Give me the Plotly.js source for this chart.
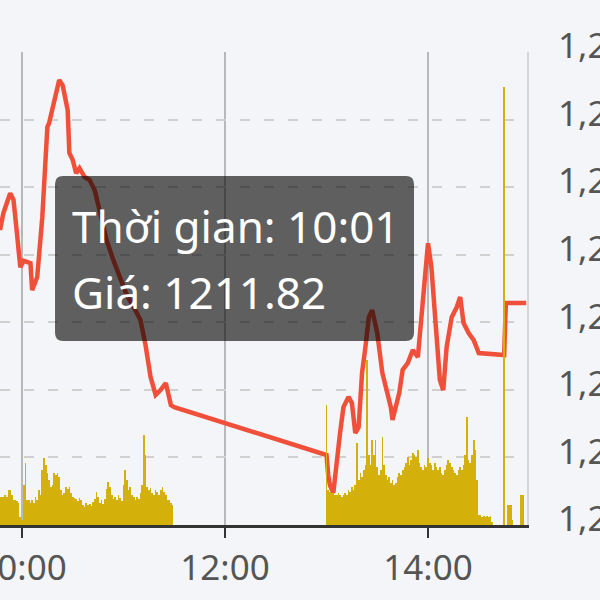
<!DOCTYPE html>
<html>
<head>
<meta charset="utf-8">
<script src="https://cdn.plot.ly/plotly-3.0.1.min.js"></script>
<style>
  html, body { margin: 0; padding: 0; background: #f4f5f8; }
  #chart { width: 600px; height: 600px; }
</style>
</head>
<body>
<div id="chart"></div>
<script>
// ---- Data ----
const tradeDate = '2024-01-01';

// Price line (time HH:MM, index value)
const priceTimes = ['09:47','09:49','09:53','09:55','09:57','09:59','10:01','10:05','10:06','10:09',
  '10:12','10:14','10:15','10:16','10:18','10:21','10:22','10:24','10:27','10:28',
  '10:30','10:32','10:34','10:37','10:40','10:43','10:46','10:50','10:54','10:58',
  '11:02','11:07','11:10','11:13','11:16','11:19','11:22','11:25','11:28','11:30',
  '13:00','13:01','13:02','13:04','13:05','13:06','13:08','13:10','13:13','13:15',
  '13:17','13:19','13:21','13:23','13:25','13:27','13:30','13:33','13:38','13:39',
  '13:43','13:45','13:48','13:51','13:54','13:57','14:00','14:02','14:05','14:07',
  '14:09','14:11','14:14','14:17','14:19','14:21','14:24','14:27','14:30','14:45',
  '14:46','14:58'];
const priceValues = [1212.73,1213.23,1213.82,1213.62,1212.64,1211.63,1211.82,1211.75,1210.95,1211.34,
  1213.11,1215.09,1215.78,1215.89,1216.37,1216.96,1217.17,1217.02,1216.28,1215.01,
  1214.80,1214.41,1214.56,1214.30,1214.21,1213.91,1213.23,1212.43,1211.84,1211.34,
  1210.80,1210.36,1210.07,1209.33,1208.38,1207.85,1208.00,1208.20,1207.55,1207.49,
  1206.07,1205.48,1205.18,1204.95,1205.33,1205.78,1206.72,1207.49,1207.79,1207.61,
  1206.72,1206.90,1208.50,1209.27,1210.15,1210.36,1209.68,1208.50,1207.49,1207.11,
  1207.91,1208.59,1208.79,1209.18,1208.97,1210.66,1212.34,1211.63,1209.68,1208.29,
  1207.99,1209.27,1210.15,1210.45,1210.75,1209.98,1209.68,1209.47,1209.09,1209.03,
  1210.57,1210.57];

// Per-minute volume (units of 10,000 shares), morning session from 09:47
const volMorningStart = '09:47';
const volMorning = [28,28,28,30,28,35,35,30,25,25,24,22,8,
  5,40,62,25,25,22,25,22,28,25,35,30,55,67,60,52,45,38,40,52,50,52,48,35,30,32,38,36,38,32,
  28,27,26,24,27,25,20,18,22,20,21,19,23,26,33,28,22,25,21,26,36,43,38,30,26,28,25,30,27,24,
  40,55,45,35,38,30,28,25,28,26,32,40,90,70,38,35,37,32,30,35,33,30,35,38,33,30,25,25,22,20];
// Per-minute volume, afternoon session from 13:00
const volAfternoonStart = '13:00';
const volAfternoon = [120,35,33,32,32,30,30,32,30,28,30,32,30,35,33,38,35,40,82,45,
  52,48,55,60,165,70,60,85,70,85,58,50,55,88,60,50,45,48,42,45,
  40,42,48,52,50,55,58,62,68,60,65,72,70,68,75,62,58,55,60,58,
  67,62,60,55,62,58,55,58,52,50,55,60,65,62,58,55,52,50,55,58,
  55,60,70,108,65,62,70,85,75,45,
  10,10,8,9,8,9,8,9,3,0,0,0,0,0,0,438,0,20,20,20,5,0,0,0,0,30,30];

// Axis ticks
const yTickStart = 1204, yTickEnd = 1218, yTickStep = 2;
const xTickTimes = ['10:00','12:00','14:00'];
const viewStart = '09:47:00', viewEnd = '14:58:30';

// Highlighted (hovered) point
const hoverTime = '10:01';

// ---- Build ----
function ts(hm) { return tradeDate + ' ' + (hm.length === 5 ? hm + ':00' : hm); }
function minuteSeries(start, n) {
  const [h, m] = start.split(':').map(Number);
  const out = [];
  for (let i = 0; i < n; i++) {
    const tot = h * 60 + m + i;
    const hh = String(Math.floor(tot / 60)).padStart(2, '0');
    const mm = String(tot % 60).padStart(2, '0');
    out.push(ts(hh + ':' + mm));
  }
  return out;
}

const volX = minuteSeries(volMorningStart, volMorning.length).concat(minuteSeries(volAfternoonStart, volAfternoon.length));
const volY = volMorning.concat(volAfternoon);

const volTrace = {
  type: 'bar', x: volX, y: volY, yaxis: 'y2',
  width: 60000,
  marker: { color: '#d4b00a', line: { width: 0 } },
  hoverinfo: 'skip'
};
const priceTrace = {
  type: 'scatter', mode: 'lines', x: priceTimes.map(ts), y: priceValues,
  line: { color: '#f0503a', width: 4.5 },
  hoverinfo: 'skip'
};

const hIdx = priceTimes.indexOf(hoverTime);
const tipLine1 = 'Thời gian: ' + priceTimes[hIdx];
const tipLine2 = 'Giá: ' + priceValues[hIdx].toFixed(2);

const yTicks = [];
for (let v = yTickStart; v <= yTickEnd; v += yTickStep) yTicks.push(v);

// tooltip box (paper coords, rounded corners)
const bx0 = 0.1044, bx1 = 0.7856, by0 = 0.389, by1 = 0.7378, rx = 0.0152, ry = 0.0169;
const boxPath = `M ${bx0+rx} ${by1} L ${bx1-rx} ${by1} Q ${bx1} ${by1} ${bx1} ${by1-ry} L ${bx1} ${by0+ry} Q ${bx1} ${by0} ${bx1-rx} ${by0} L ${bx0+rx} ${by0} Q ${bx0} ${by0} ${bx0} ${by0+ry} L ${bx0} ${by1-ry} Q ${bx0} ${by1} ${bx0+rx} ${by1} Z`;

const fontFam = '"Noto Sans", "Open Sans", sans-serif';
const layout = {
  width: 600, height: 600,
  margin: { l: 0, r: 73, t: 52, b: 75, pad: 0 },
  paper_bgcolor: '#f4f5f8', plot_bgcolor: '#f4f5f8',
  showlegend: false,
  hovermode: false,
  bargap: 0,
  font: { family: fontFam, color: '#555555' },
  xaxis: {
    type: 'date',
    range: [ts(viewStart), ts(viewEnd)],
    tickvals: xTickTimes.map(ts),
    tickformat: '%H:%M',
    tickfont: { size: 35, color: '#555555', family: fontFam },
    ticklabeloverflow: 'allow',
    ticks: 'outside', ticklen: 10, tickwidth: 2, tickcolor: '#333333',
    showline: true, linecolor: '#333333', linewidth: 3,
    showgrid: true, gridcolor: '#b8b8b8', gridwidth: 2,
    zeroline: false
  },
  yaxis: {
    side: 'right',
    range: [yTickStart, yTickEnd],
    tickvals: yTicks,
    tickformat: ',.0f',
    tickfont: { size: 35, color: '#555555', family: fontFam },
    ticklabeloverflow: 'allow',
    ticks: '', ticklabelstandoff: 22, ticklabelshift: -6,
    showline: true, linecolor: '#d6d6d6', linewidth: 2,
    showgrid: true, gridcolor: '#d0d0d0', gridwidth: 2, griddash: '10px,14px',
    zeroline: false
  },
  yaxis2: {
    overlaying: 'y', side: 'left', range: [0, 473], visible: false, fixedrange: true
  },
  shapes: [{
    type: 'path', xref: 'paper', yref: 'paper', path: boxPath,
    fillcolor: 'rgba(0,0,0,0.61)', line: { width: 0 }, layer: 'above'
  }],
  annotations: [
    { xref: 'paper', yref: 'paper', x: 0.1328, y: 0.632, xanchor: 'left', yanchor: 'middle',
      text: tipLine1, showarrow: false, font: { size: 44, color: '#ffffff', family: fontFam } },
    { xref: 'paper', yref: 'paper', x: 0.1328, y: 0.4926, xanchor: 'left', yanchor: 'middle',
      text: tipLine2, showarrow: false, font: { size: 44, color: '#ffffff', family: fontFam } }
  ]
};

Plotly.newPlot('chart', [volTrace, priceTrace], layout, { displayModeBar: false, staticPlot: true });
</script>
</body>
</html>
